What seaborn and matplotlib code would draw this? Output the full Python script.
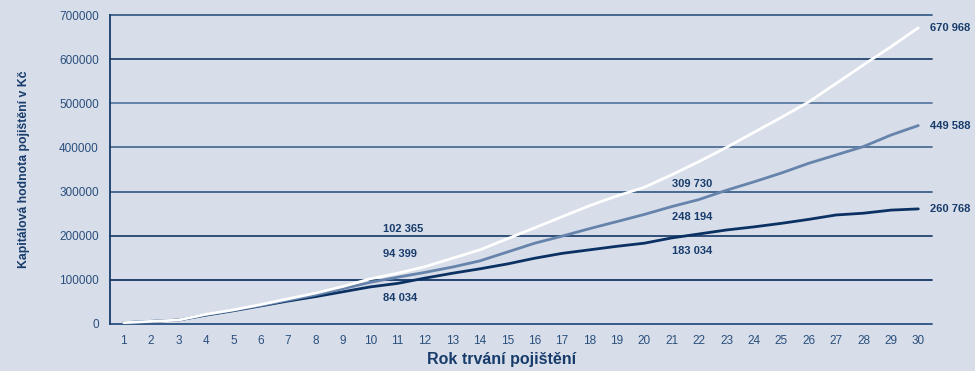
import matplotlib
matplotlib.use("Agg")
import matplotlib.pyplot as plt
import pandas as pd
import seaborn as sns

# Data
years = list(range(1, 31))
series_names = ["nízký", "střední", "vysoký"]
low_values = [3000, 6000, 9000, 20000, 30000, 41000, 52000, 62000, 73000, 84034,
              92000, 104000, 115000, 125000, 136000, 149000, 160000, 168000, 176000, 183034,
              195000, 204000, 213000, 220000, 228000, 237000, 247000, 251000, 258000, 260768]
mid_values = [3000, 6000, 9000, 21000, 31000, 42000, 54000, 66000, 80000, 94399,
              106000, 117000, 129000, 143000, 163000, 183000, 199000, 216000, 232000, 248194,
              266000, 282000, 303000, 322000, 342000, 364000, 383000, 402000, 428000, 449588]
high_values = [3000, 6000, 9000, 22000, 32000, 44000, 57000, 70000, 85000, 102365,
               115000, 130000, 149000, 168000, 193000, 218000, 243000, 268000, 290000, 309730,
               338000, 368000, 400000, 434000, 468000, 503000, 545000, 587000, 628000, 670968]
y_ticks = [0, 100000, 200000, 300000, 400000, 500000, 600000, 700000]

BG = "#d7dde9"
NAVY = "#173c6b"
TICK_COLOR = "#2a4f7c"
LINE_COLORS = {"nízký": "#0b3163", "střední": "#6684ab", "vysoký": "#ffffff"}
GRID_COLORS = ["#2a5080", "#123668", "#23446f", "#3e6189", "#4d6f95", "#5a7ba0", "#24466f", "#3b5f88"]


def fmt(v):
    return f"{v:,}".replace(",", " ")


sns.set_style("white", {"axes.facecolor": BG, "figure.facecolor": BG})
plt.rcParams["font.family"] = ["Liberation Sans", "DejaVu Sans"]

df = pd.DataFrame({
    "rok": years * 3,
    "hodnota": low_values + mid_values + high_values,
    "serie": [series_names[0]] * 30 + [series_names[1]] * 30 + [series_names[2]] * 30,
})

fig = plt.figure(figsize=(9.75, 3.71), dpi=100)
ax = fig.add_axes([110 / 975, (371 - 324) / 371, 822 / 975, 309 / 371])

for yv, col in zip(y_ticks, GRID_COLORS):
    ax.axhline(yv, color=col, linewidth=1.3, zorder=1, clip_on=False)

sns.lineplot(data=df, x="rok", y="hodnota", hue="serie", hue_order=series_names,
             palette=LINE_COLORS, linewidth=2.0, legend=False, ax=ax, zorder=3)

ax.set_xlim(0.5, 30.5)
ax.set_ylim(0, 700000)
ax.set_xticks(years)
ax.set_yticks(y_ticks)
ax.set_yticklabels([str(v) for v in y_ticks])
ax.tick_params(axis="x", length=0, pad=8, labelsize=8.5, labelcolor=TICK_COLOR)
ax.tick_params(axis="y", length=5, width=1.2, color=NAVY, pad=3, labelsize=8.5, labelcolor=TICK_COLOR)

for side in ["top", "right", "bottom"]:
    ax.spines[side].set_visible(False)
ax.spines["left"].set_color(NAVY)
ax.spines["left"].set_linewidth(1.3)

ax.set_xlabel("Rok trvání pojištění", fontsize=11.5, fontweight="bold", color=NAVY)
ax.xaxis.set_label_coords(0.476, -0.09)
ax.set_ylabel("Kapitálová hodnota pojištění v Kč", fontsize=8.8, fontweight="bold", color=NAVY)
ax.yaxis.set_label_coords(-0.097, 0.5)

label_style = dict(fontsize=8, fontweight="bold", color=NAVY, ha="left", va="center")
# year 10 labels
ax.text(10.45, 215000, fmt(high_values[9]), **label_style)
ax.text(10.45, 159000, fmt(mid_values[9]), **label_style)
ax.text(10.45, 59000, fmt(low_values[9]), **label_style)
# year 20 labels
ax.text(21.0, 317000, fmt(high_values[19]), **label_style)
ax.text(21.0, 242000, fmt(mid_values[19]), **label_style)
ax.text(21.0, 166000, fmt(low_values[19]), **label_style)
# year 30 labels
for vals in (high_values, mid_values, low_values):
    ax.text(30.43, vals[-1], fmt(vals[-1]), clip_on=False, **label_style)

fig.savefig("out.png", dpi=100, facecolor=BG)
